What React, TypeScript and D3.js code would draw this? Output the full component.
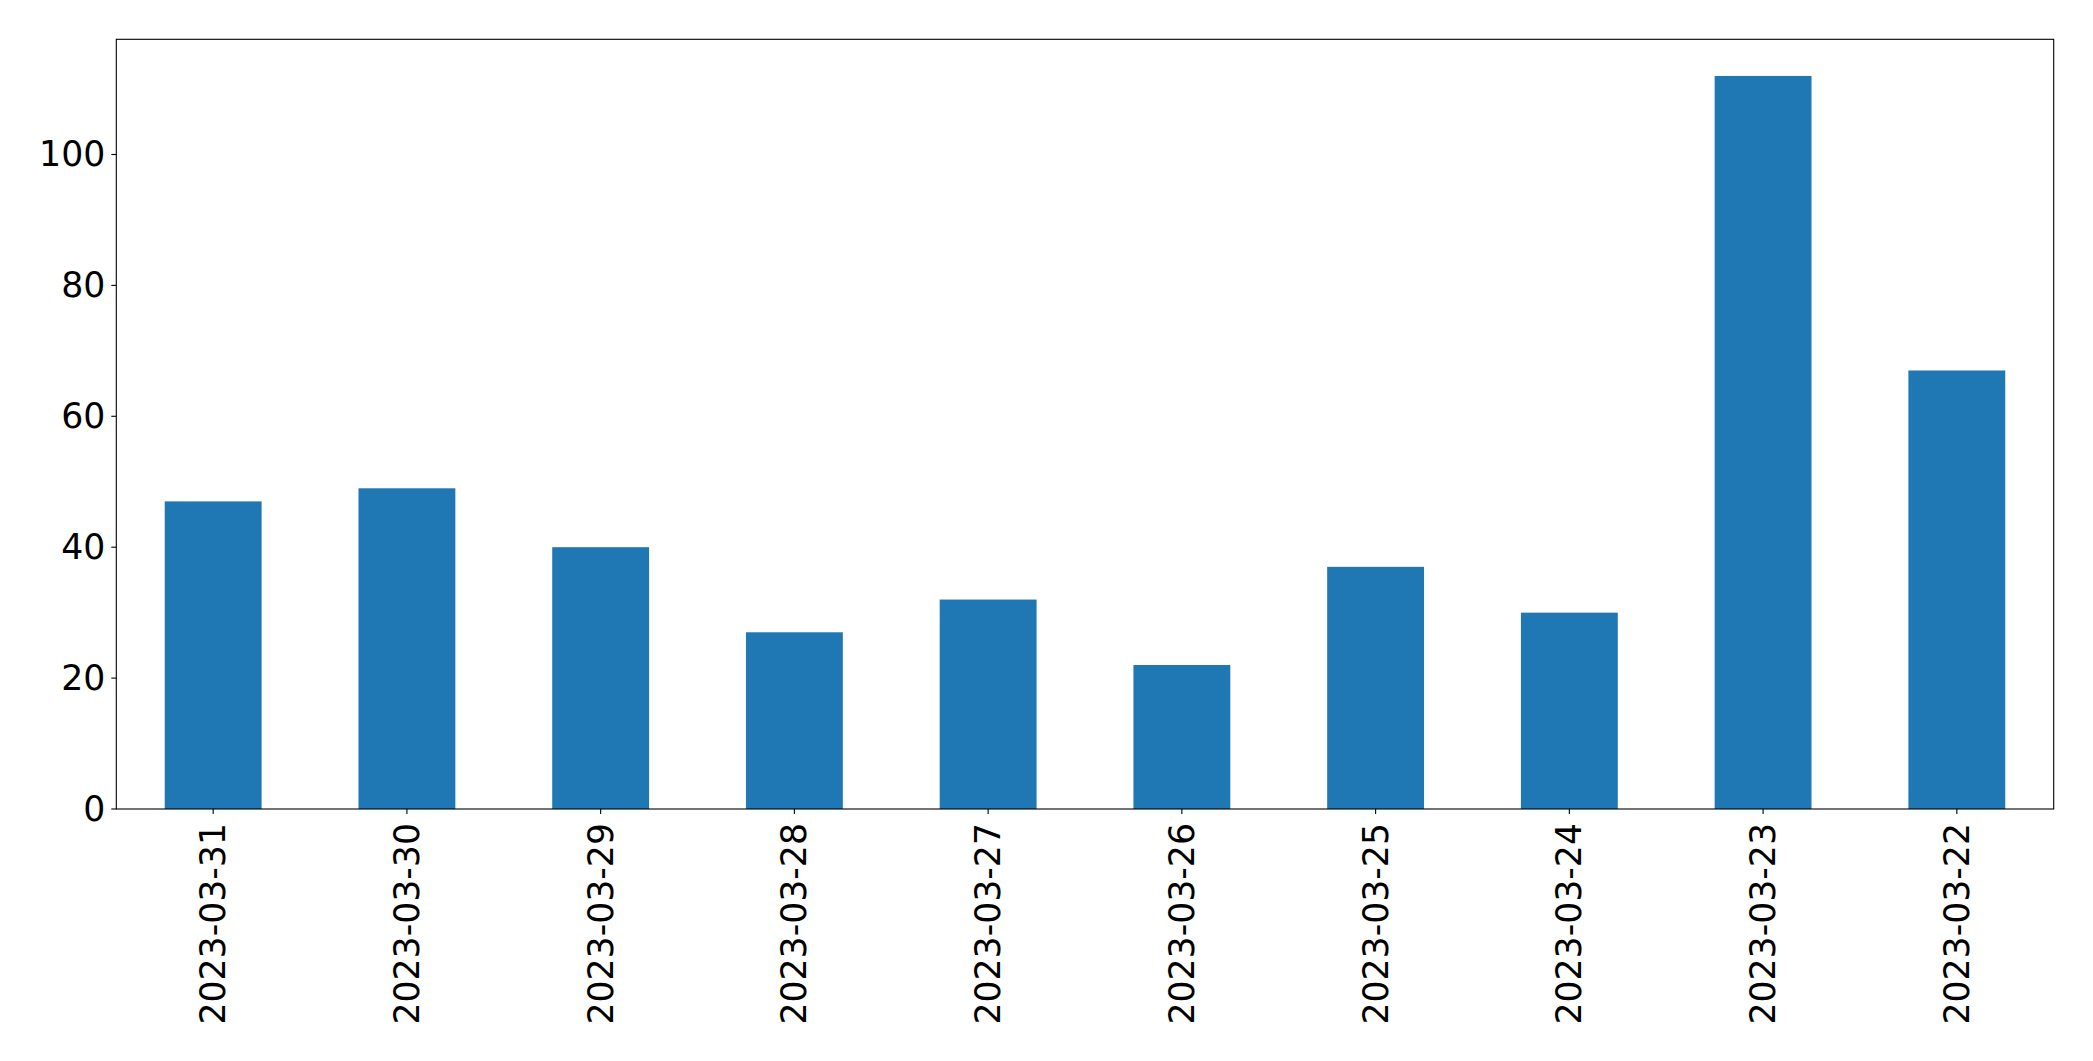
import React from "react";
import * as d3 from "d3";

const categories = [
  "2023-03-31", "2023-03-30", "2023-03-29", "2023-03-28", "2023-03-27",
  "2023-03-26", "2023-03-25", "2023-03-24", "2023-03-23", "2023-03-22",
];
const values = [47, 49, 40, 27, 32, 22, 37, 30, 112, 67];
const yTicks = [0, 20, 40, 60, 80, 100];

const W = 2093;
const H = 1061;
const M = { left: 116.3, right: 2053.7, top: 39.3, bottom: 809 };
const FONT = "'DejaVu Sans', sans-serif";
const FS = 34.7;
const TICK = 5;
const PAD = 9;

export default function App() {
  const x = d3
    .scaleBand<string>()
    .domain(categories)
    .range([M.left, M.right])
    .paddingInner(0.5)
    .paddingOuter(0.25);
  const yMax = d3.max(values)! * 1.05;
  const y = d3.scaleLinear().domain([0, yMax]).range([M.bottom, M.top]);
  const bw = x.bandwidth();

  return (
    <svg
      width={W}
      height={H}
      style={{ position: "absolute", left: 0, top: 0, background: "#fff" }}
    >
      <rect x={0} y={0} width={W} height={H} fill="#fff" />
      {categories.map((c, i) => (
        <rect
          key={c}
          x={x(c)}
          y={y(values[i])}
          width={bw}
          height={y(0) - y(values[i])}
          fill="#1f77b4"
        />
      ))}
      <rect
        x={M.left}
        y={M.top}
        width={M.right - M.left}
        height={M.bottom - M.top}
        fill="none"
        stroke="#000"
        strokeWidth={1.1}
      />
      {yTicks.map((t) => (
        <g key={t}>
          <line
            x1={M.left - TICK}
            x2={M.left}
            y1={y(t)}
            y2={y(t)}
            stroke="#000"
            strokeWidth={1.1}
          />
          <text
            x={M.left - TICK - 6}
            y={y(t)}
            textAnchor="end"
            dominantBaseline="central"
            fontFamily={FONT}
            fontSize={FS}
            fill="#000"
          >
            {t}
          </text>
        </g>
      ))}
      {categories.map((c) => {
        const cx = x(c)! + bw / 2;
        const ty = M.bottom + TICK + PAD;
        return (
          <g key={c}>
            <line
              x1={cx}
              x2={cx}
              y1={M.bottom}
              y2={M.bottom + TICK}
              stroke="#000"
              strokeWidth={1.1}
            />
            <text
              transform={`translate(${cx},${ty}) rotate(-90)`}
              textAnchor="end"
              dominantBaseline="central"
              fontFamily={FONT}
              fontSize={FS}
              fill="#000"
            >
              {c}
            </text>
          </g>
        );
      })}
    </svg>
  );
}
